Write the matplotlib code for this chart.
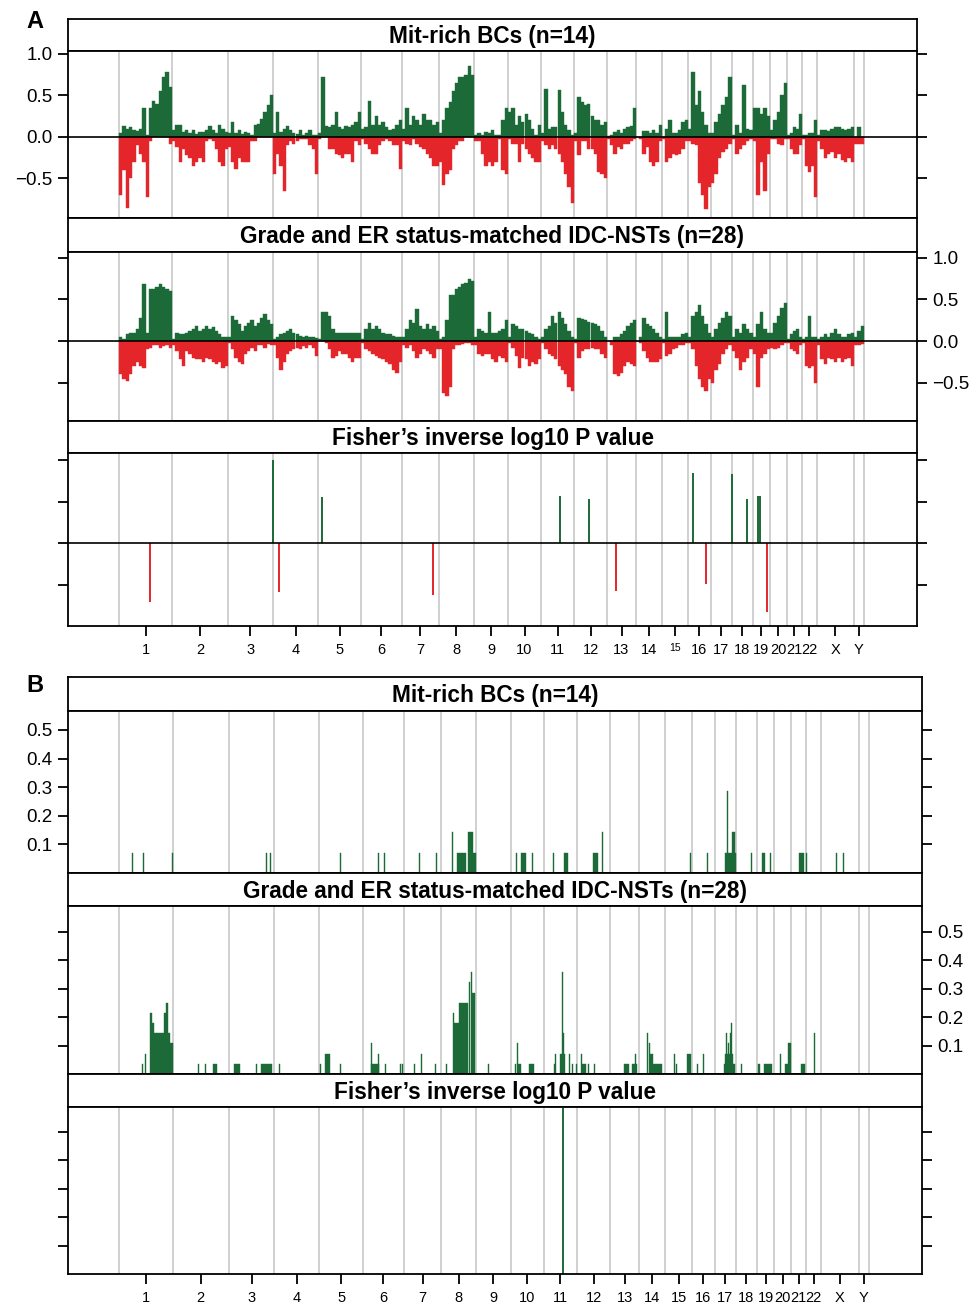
import matplotlib.pyplot as plt
import numpy as np

plt.rcParams['font.family'] = ['Liberation Sans', 'DejaVu Sans']

chrom_names = ['1', '2', '3', '4', '5', '6', '7', '8', '9', '10', '11', '12',
               '13', '14', '15', '16', '17', '18', '19', '20', '21', '22', 'X', 'Y']
chrom_len = [53, 56, 45, 45, 43, 41, 37, 35, 34, 33, 33, 33,
             29, 26, 26, 23, 21, 21, 17, 17, 15, 15, 37, 10]

# panel A: frequency of gain (green) / loss (red), bins along each chromosome
mit_gain = [
    [0.05, 0.13, 0.10, 0.12, 0.08, 0.07, 0.10, 0.35, 0.02, 0.35, 0.43, 0.40, 0.55, 0.72, 0.78, 0.60],
    [0.08, 0.15, 0.14, 0.06, 0.08, 0.05, 0.08, 0.04, 0.06, 0.06, 0.08, 0.13, 0.08, 0.05, 0.14, 0.10, 0.06],
    [0.05, 0.18, 0.05, 0.08, 0.04, 0.06, 0.05, 0.03, 0.15, 0.16, 0.22, 0.30, 0.38, 0.50],
    [0.05, 0.30, 0.06, 0.10, 0.13, 0.08, 0.05, 0.04, 0.08, 0.03, 0.05, 0.08, 0.03, 0.03],
    [0.05, 0.72, 0.13, 0.12, 0.15, 0.30, 0.12, 0.10, 0.13, 0.12, 0.15, 0.18, 0.30],
    [0.10, 0.12, 0.43, 0.15, 0.25, 0.15, 0.18, 0.12, 0.08, 0.10, 0.15, 0.20],
    [0.10, 0.35, 0.15, 0.25, 0.20, 0.15, 0.28, 0.20, 0.20, 0.15, 0.18],
    [0.05, 0.20, 0.35, 0.42, 0.55, 0.65, 0.72, 0.72, 0.75, 0.86, 0.75],
    [0.02, 0.05, 0.03, 0.06, 0.05, 0.08, 0.02, 0.03, 0.20, 0.35],
    [0.30, 0.35, 0.15, 0.25, 0.18, 0.28, 0.20, 0.10, 0.03, 0.15],
    [0.05, 0.58, 0.10, 0.12, 0.12, 0.57, 0.30, 0.15, 0.08, 0.03],
    [0.05, 0.48, 0.42, 0.38, 0.40, 0.25, 0.20, 0.20, 0.15, 0.18],
    [0.01, 0.03, 0.06, 0.08, 0.05, 0.10, 0.12, 0.13, 0.35],
    [0.00, 0.00, 0.07, 0.07, 0.05, 0.08, 0.05, 0.15],
    [0.00, 0.10, 0.20, 0.05, 0.05, 0.08, 0.18, 0.20],
    [0.10, 0.78, 0.38, 0.55, 0.30, 0.15, 0.05],
    [0.05, 0.18, 0.28, 0.38, 0.48, 0.72],
    [0.03, 0.15, 0.05, 0.63, 0.10, 0.08],
    [0.35, 0.35, 0.28, 0.35, 0.25],
    [0.08, 0.20, 0.30, 0.50, 0.65],
    [0.02, 0.05, 0.12, 0.10, 0.28],
    [0.02, 0.03, 0.05, 0.05, 0.20],
    [0.02, 0.08, 0.08, 0.07, 0.10, 0.12, 0.12, 0.10, 0.08, 0.10, 0.12],
    [0.00, 0.12, 0.00],
]
mit_loss = [
    [-0.70, -0.40, -0.85, -0.50, -0.30, -0.10, -0.20, -0.30, -0.72, -0.05, 0, 0, 0, 0, 0, -0.08],
    [-0.05, -0.12, -0.30, -0.15, -0.22, -0.25, -0.35, -0.30, -0.25, -0.30, -0.05, -0.03, -0.05, -0.15, -0.30, -0.35, -0.15],
    [-0.12, -0.30, -0.38, -0.25, -0.30, -0.30, -0.30, -0.05, -0.05, 0, 0, 0, 0, 0],
    [-0.45, -0.20, -0.35, -0.65, -0.10, -0.05, -0.08, -0.05, -0.03, -0.02, -0.03, -0.10, -0.15, -0.45],
    [-0.02, 0, 0, -0.15, -0.15, -0.20, -0.22, -0.25, -0.20, -0.20, -0.30, -0.05, -0.10],
    [-0.02, -0.08, -0.15, -0.20, -0.20, -0.10, -0.05, -0.02, -0.05, -0.10, -0.10, -0.38],
    [-0.05, -0.08, -0.10, -0.03, -0.08, -0.12, -0.15, -0.20, -0.25, -0.35, -0.35],
    [-0.30, -0.58, -0.45, -0.40, -0.15, -0.10, -0.05, -0.05, 0, 0, 0],
    [-0.05, -0.05, -0.20, -0.35, -0.30, -0.35, -0.30, -0.02, -0.40, -0.45],
    [-0.02, -0.08, -0.08, -0.30, -0.08, -0.15, -0.20, -0.25, -0.30, -0.30],
    [-0.05, -0.10, -0.15, -0.10, -0.15, -0.20, -0.30, -0.45, -0.60, -0.80],
    [-0.05, -0.22, -0.05, -0.05, -0.15, -0.15, -0.20, -0.42, -0.45, -0.50],
    [-0.02, -0.10, -0.20, -0.12, -0.15, -0.08, -0.08, -0.05, -0.02],
    [0, -0.02, -0.20, -0.12, -0.30, -0.35, -0.30, -0.05],
    [-0.02, -0.30, -0.25, -0.20, -0.22, -0.20, -0.15, -0.05],
    [-0.05, -0.08, -0.10, -0.55, -0.70, -0.87, -0.60],
    [-0.55, -0.45, -0.25, -0.18, -0.15, -0.08],
    [-0.02, -0.20, -0.15, -0.10, -0.05, -0.03],
    [-0.05, -0.70, -0.30, -0.65, -0.20],
    [-0.02, -0.02, -0.08, -0.10, -0.02],
    [-0.02, -0.15, -0.20, -0.20, -0.10],
    [-0.02, -0.35, -0.42, -0.35, -0.72],
    [-0.05, -0.15, -0.25, -0.20, -0.18, -0.25, -0.20, -0.28, -0.30, -0.25, -0.30],
    [-0.08, -0.08, -0.08],
]
idc_gain = [
    [0.05, 0.03, 0.08, 0.10, 0.10, 0.15, 0.28, 0.68, 0.10, 0.62, 0.63, 0.65, 0.68, 0.65, 0.62, 0.60],
    [0.03, 0.10, 0.08, 0.08, 0.10, 0.12, 0.15, 0.18, 0.12, 0.15, 0.18, 0.15, 0.17, 0.12, 0.08, 0.05, 0.05],
    [0.05, 0.30, 0.25, 0.20, 0.12, 0.18, 0.22, 0.25, 0.18, 0.22, 0.28, 0.33, 0.25, 0.20],
    [0.02, 0.05, 0.08, 0.10, 0.12, 0.15, 0.10, 0.08, 0.06, 0.05, 0.06, 0.05, 0.05, 0.04],
    [0.02, 0.35, 0.35, 0.30, 0.15, 0.10, 0.10, 0.10, 0.10, 0.10, 0.10, 0.10, 0.10],
    [0.02, 0.15, 0.22, 0.15, 0.18, 0.15, 0.10, 0.08, 0.08, 0.06, 0.05, 0.05],
    [0.05, 0.15, 0.25, 0.22, 0.38, 0.18, 0.15, 0.20, 0.15, 0.18, 0.12],
    [0.02, 0.05, 0.25, 0.55, 0.55, 0.62, 0.65, 0.68, 0.70, 0.75, 0.72],
    [0.05, 0.15, 0.12, 0.10, 0.35, 0.10, 0.10, 0.12, 0.15, 0.25],
    [0.05, 0.20, 0.18, 0.15, 0.15, 0.12, 0.10, 0.08, 0.05, 0.03],
    [0.05, 0.15, 0.18, 0.30, 0.22, 0.35, 0.28, 0.20, 0.12, 0.05],
    [0.02, 0.28, 0.26, 0.25, 0.23, 0.22, 0.20, 0.18, 0.12, 0.05],
    [0.00, 0.00, 0.05, 0.05, 0.08, 0.12, 0.18, 0.22, 0.25],
    [0.00, 0.05, 0.28, 0.20, 0.18, 0.15, 0.10, 0.05],
    [0.02, 0.35, 0.05, 0.05, 0.05, 0.05, 0.08, 0.10],
    [0.05, 0.30, 0.35, 0.43, 0.30, 0.20, 0.10],
    [0.05, 0.15, 0.22, 0.28, 0.35, 0.30],
    [0.05, 0.15, 0.10, 0.20, 0.15, 0.10],
    [0.05, 0.20, 0.35, 0.15, 0.10],
    [0.10, 0.22, 0.30, 0.40, 0.46],
    [0.02, 0.08, 0.12, 0.15, 0.05],
    [0.02, 0.05, 0.30, 0.05, 0.05],
    [0.02, 0.05, 0.08, 0.05, 0.10, 0.14, 0.08, 0.05, 0.05, 0.08, 0.10],
    [0.05, 0.12, 0.18],
]
idc_loss = [
    [-0.40, -0.45, -0.48, -0.40, -0.30, -0.25, -0.30, -0.32, -0.10, -0.08, -0.05, -0.05, -0.08, -0.06, -0.05, -0.08],
    [-0.05, -0.12, -0.22, -0.30, -0.12, -0.15, -0.20, -0.22, -0.22, -0.25, -0.20, -0.22, -0.25, -0.28, -0.25, -0.32, -0.30],
    [-0.02, -0.10, -0.20, -0.25, -0.28, -0.15, -0.12, -0.08, -0.12, -0.05, -0.05, -0.08, -0.03, -0.05],
    [-0.05, -0.20, -0.35, -0.25, -0.15, -0.12, -0.10, -0.08, -0.10, -0.06, -0.08, -0.05, -0.08, -0.18],
    [0, 0, -0.02, -0.10, -0.20, -0.18, -0.12, -0.15, -0.15, -0.20, -0.25, -0.20, -0.20],
    [-0.02, -0.10, -0.12, -0.15, -0.18, -0.20, -0.22, -0.25, -0.28, -0.35, -0.38, -0.25],
    [-0.05, -0.08, -0.05, -0.12, -0.20, -0.15, -0.10, -0.12, -0.15, -0.20, -0.10],
    [-0.10, -0.62, -0.66, -0.55, -0.10, -0.05, -0.05, -0.03, -0.02, -0.02, -0.05],
    [-0.05, -0.15, -0.18, -0.15, -0.15, -0.22, -0.25, -0.18, -0.20, -0.25],
    [-0.02, -0.08, -0.18, -0.32, -0.20, -0.22, -0.30, -0.25, -0.28, -0.22],
    [-0.02, -0.10, -0.15, -0.18, -0.22, -0.30, -0.35, -0.40, -0.55, -0.60],
    [-0.02, -0.20, -0.12, -0.10, -0.10, -0.08, -0.10, -0.10, -0.15, -0.20],
    [0, -0.05, -0.40, -0.42, -0.38, -0.30, -0.25, -0.28, -0.30],
    [0, -0.02, -0.12, -0.20, -0.25, -0.25, -0.25, -0.22],
    [-0.02, -0.18, -0.15, -0.10, -0.08, -0.05, -0.05, -0.02],
    [-0.02, -0.10, -0.30, -0.45, -0.55, -0.60, -0.45],
    [-0.50, -0.35, -0.28, -0.15, -0.10, -0.05],
    [-0.12, -0.20, -0.35, -0.25, -0.20, -0.10],
    [-0.15, -0.55, -0.20, -0.15, -0.10],
    [-0.08, -0.10, -0.08, -0.05, -0.02],
    [-0.02, -0.10, -0.12, -0.15, -0.05],
    [-0.02, -0.30, -0.32, -0.30, -0.50],
    [-0.05, -0.22, -0.28, -0.20, -0.22, -0.25, -0.20, -0.25, -0.22, -0.20, -0.30],
    [-0.05, -0.05, -0.03],
]

# panel A Fisher's inverse log10 P (chromosome, relative position, signed value)
fisher_a_chrom = ['1', '3', '4', '5', '7', '11', '12', '13', '16', '16', '17', '18', '19', '19', '19']
fisher_a_pos = [0.585, 0.99, 0.14, 0.10, 0.85, 0.58, 0.46, 0.31, 0.22, 0.78, 0.98, 0.71, 0.28, 0.43, 0.80]
fisher_a_val = [-1.42, 2.0, -1.18, 1.10, -1.25, 1.13, 1.06, -1.16, 1.69, -0.99, 1.66, 1.06, 1.13, 1.13, -1.66]

# panel B amplification frequency: (chromosome, start, end, number of cases)
mit_amp = [
    ('1', 0.23, 0.23, 1), ('1', 0.45, 0.45, 1), ('1', 0.99, 0.99, 1),
    ('3', 0.81, 0.81, 1), ('3', 0.91, 0.91, 1), ('5', 0.47, 0.47, 1),
    ('6', 0.37, 0.37, 1), ('6', 0.51, 0.51, 1), ('7', 0.41, 0.41, 1), ('7', 0.85, 0.85, 1),
    ('8', 0.32, 0.32, 2), ('8', 0.44, 0.71, 1), ('8', 0.75, 0.89, 2), ('8', 0.89, 1.0, 1),
    ('10', 0.15, 0.15, 1), ('10', 0.30, 0.45, 1), ('10', 0.64, 0.64, 1),
    ('11', 0.27, 0.27, 1), ('11', 0.60, 0.73, 1),
    ('12', 0.48, 0.64, 1), ('12', 0.76, 0.76, 2),
    ('15', 0.93, 0.93, 1), ('16', 0.68, 0.68, 1),
    ('17', 0.48, 1.0, 1), ('17', 0.83, 0.96, 2), ('17', 0.57, 0.57, 4),
    ('18', 0.70, 0.70, 1), ('19', 0.30, 0.47, 1), ('19', 0.76, 0.76, 1),
    ('21', 0.53, 0.87, 1), ('21', 0.97, 0.97, 1),
    ('X', 0.38, 0.38, 1), ('X', 0.57, 0.57, 1),
]
mit_n = 14
idc_amp = [
    ('1', 0.43, 0.43, 1), ('1', 0.49, 0.49, 2), ('1', 0.57, 0.62, 6), ('1', 0.62, 0.66, 5),
    ('1', 0.66, 0.71, 4), ('1', 0.71, 0.84, 4), ('1', 0.84, 0.88, 6), ('1', 0.88, 0.92, 7),
    ('1', 0.92, 0.96, 4), ('1', 0.96, 1.0, 3),
    ('2', 0.45, 0.45, 1), ('2', 0.57, 0.57, 1), ('2', 0.71, 0.79, 1),
    ('3', 0.11, 0.25, 1), ('3', 0.59, 0.59, 1), ('3', 0.71, 0.95, 1), ('4', 0.11, 0.11, 1),
    ('5', 0.02, 0.02, 1), ('5', 0.13, 0.25, 2), ('5', 0.47, 0.47, 1),
    ('6', 0.19, 0.19, 3), ('6', 0.20, 0.40, 1), ('6', 0.38, 0.38, 2), ('6', 0.53, 0.53, 1),
    ('6', 0.91, 0.91, 1), ('6', 0.96, 0.96, 1),
    ('7', 0.27, 0.27, 1), ('7', 0.46, 0.46, 2), ('7', 0.83, 0.83, 1),
    ('8', 0.14, 0.14, 1), ('8', 0.33, 0.33, 6), ('8', 0.37, 0.51, 5), ('8', 0.51, 0.76, 7),
    ('8', 0.78, 0.78, 9), ('8', 0.84, 0.84, 10), ('8', 0.87, 0.96, 8),
    ('9', 0.33, 0.33, 1),
    ('10', 0.14, 0.14, 1), ('10', 0.19, 0.19, 3), ('10', 0.22, 0.32, 1), ('10', 0.55, 0.70, 1),
    ('11', 0.30, 0.30, 1), ('11', 0.35, 0.35, 2), ('11', 0.50, 0.63, 2), ('11', 0.56, 0.56, 10),
    ('11', 0.59, 0.59, 4), ('11', 0.75, 0.75, 2), ('11', 0.85, 0.85, 1), ('11', 0.98, 0.98, 1),
    ('12', 0.11, 0.11, 2), ('12', 0.15, 0.28, 1), ('12', 0.33, 0.33, 1), ('12', 0.52, 0.52, 1),
    ('13', 0.47, 0.64, 1), ('13', 0.76, 0.93, 1), ('13', 0.86, 0.86, 2),
    ('14', 0.30, 0.30, 4), ('14', 0.36, 0.42, 3), ('14', 0.42, 0.54, 2), ('14', 0.54, 0.85, 1),
    ('15', 0.33, 0.33, 2), ('15', 0.39, 0.39, 1), ('15', 0.81, 0.98, 2),
    ('16', 0.22, 0.22, 1), ('16', 0.51, 0.51, 2),
    ('17', 0.45, 0.97, 1), ('17', 0.48, 0.85, 2), ('17', 0.55, 0.55, 4), ('17', 0.62, 0.62, 3),
    ('17', 0.70, 0.70, 4), ('17', 0.77, 0.77, 5),
    ('18', 0.24, 0.24, 1), ('19', 0.05, 0.20, 1), ('19', 0.40, 0.85, 1),
    ('20', 0.35, 0.35, 2), ('20', 0.63, 0.81, 1), ('20', 0.81, 1.0, 3),
    ('21', 0.67, 0.89, 1), ('22', 0.48, 0.48, 4),
]
idc_n = 28

# panel B Fisher's inverse log10 P
fisher_b_chrom = ['11']
fisher_b_pos = [0.57]
fisher_b_val = [5.85]

green = '#1b6a37'
red = '#e4262b'
grey = '#c8c8c8'

starts = np.concatenate([[0], np.cumsum(chrom_len)[:-1]])
offset = dict(zip(chrom_names, starts))
size = dict(zip(chrom_names, chrom_len))
mids = starts + np.array(chrom_len) / 2
xlim = (-51, sum(chrom_len) + 53)

W, H = 975, 1305
fig = plt.figure(figsize=(W / 100, H / 100), dpi=100)


def rect(x0, y0, x1, y1):
    return [x0 / W, 1 - y1 / H, (x1 - x0) / W, (y1 - y0) / H]


def header(x0, y0, x1, y1, txt):
    ax = fig.add_axes(rect(x0, y0, x1, y1))
    ax.set_xticks([])
    ax.set_yticks([])
    for s in ax.spines.values():
        s.set_linewidth(1.3)
    ax.text(0.5, 0.45, txt, ha='center', va='center', fontsize=16.3, fontweight='bold')


def panel(x0, y0, x1, y1):
    ax = fig.add_axes(rect(x0, y0, x1, y1))
    ax.set_xlim(xlim)
    for s in ax.spines.values():
        s.set_linewidth(1.3)
    for b in list(starts) + [sum(chrom_len)]:
        ax.axvline(b, color=grey, lw=1.2, zorder=0)
    ax.tick_params(direction='out', length=7, width=1.3, labelsize=13.5, pad=4)
    ax.set_xticks([])
    return ax


def profile(ax, values, color):
    for ch, vals in zip(chrom_names, values):
        n = len(vals)
        w = size[ch] / n
        lefts = offset[ch] + w * np.arange(n)
        ax.bar(lefts, vals, width=w, align='edge', color=color,
               edgecolor=color, linewidth=0.3, zorder=2)


def amp(ax, rows, n):
    for ch, a, b, k in rows:
        left = offset[ch] + a * size[ch]
        w = max((b - a) * size[ch], 1.0)
        ax.bar(left, k / n, width=w, align='edge', color=green,
               edgecolor=green, linewidth=0.3, zorder=2)


def fisher(ax, chs, pos, vals):
    x = [offset[c] + p * size[c] for c, p in zip(chs, pos)]
    cols = [green if v > 0 else red for v in vals]
    ax.vlines(x, 0, vals, colors=cols, lw=1.4, zorder=2)


def chrom_axis(ax, small15):
    ax.set_xticks(mids)
    ax.set_xticklabels(chrom_names, fontsize=10.5)
    ax.tick_params(axis='x', length=7, width=1.3, pad=5)
    if small15:
        ax.get_xticklabels()[14].set_fontsize(7.5)


# ---- panel A ----
fig.text(35 / W, 1 - 22 / H, 'A', fontsize=17, fontweight='bold', ha='center', va='center')
header(68, 19, 917, 51, 'Mit-rich BCs (n=14)')
a1 = panel(68, 51, 917, 218)
profile(a1, mit_gain, green)
profile(a1, mit_loss, red)
a1.axhline(0, color='black', lw=1.2, zorder=3)
a1.set_ylim(-0.976, 1.036)
a1.set_yticks([-0.5, 0, 0.5, 1.0])
a1.set_yticklabels(['\u22120.5', '0.0', '0.5', '1.0'])
a1.tick_params(axis='y', left=True, right=True, labelleft=True, labelright=False)

header(68, 218, 917, 252, 'Grade and ER status-matched IDC-NSTs (n=28)')
a2 = panel(68, 252, 917, 421)
profile(a2, idc_gain, green)
profile(a2, idc_loss, red)
a2.axhline(0, color='black', lw=1.2, zorder=3)
a2.set_ylim(-0.96, 1.068)
a2.set_yticks([-0.5, 0, 0.5, 1.0])
a2.set_yticklabels(['\u22120.5', '0.0', '0.5', '1.0'])
a2.tick_params(axis='y', left=True, right=True, labelleft=False, labelright=True)

header(68, 421, 917, 453, 'Fisher\u2019s inverse log10 P value')
a3 = panel(68, 453, 917, 626)
fisher(a3, fisher_a_chrom, fisher_a_pos, fisher_a_val)
a3.axhline(0, color='black', lw=1.2, zorder=3)
a3.set_ylim(-2.0, 2.17)
a3.set_yticks([-1, 0, 1, 2])
a3.tick_params(axis='y', left=True, right=True, labelleft=False, labelright=False)
chrom_axis(a3, True)

# ---- panel B ----
fig.text(35 / W, 1 - 686 / H, 'B', fontsize=17, fontweight='bold', ha='center', va='center')
header(68, 677, 922, 711, 'Mit-rich BCs (n=14)')
b1 = panel(68, 711, 922, 873)
amp(b1, mit_amp, mit_n)
b1.set_ylim(0, 0.566)
b1.set_yticks([0.1, 0.2, 0.3, 0.4, 0.5])
b1.set_yticklabels(['0.1', '0.2', '0.3', '0.4', '0.5'])
b1.tick_params(axis='y', left=True, right=True, labelleft=True, labelright=False)

header(68, 873, 922, 906, 'Grade and ER status-matched IDC-NSTs (n=28)')
b2 = panel(68, 906, 922, 1074)
amp(b2, idc_amp, idc_n)
b2.set_ylim(0, 0.59)
b2.set_yticks([0.1, 0.2, 0.3, 0.4, 0.5])
b2.set_yticklabels(['0.1', '0.2', '0.3', '0.4', '0.5'])
b2.tick_params(axis='y', left=True, right=True, labelleft=False, labelright=True)

header(68, 1074, 922, 1107, 'Fisher\u2019s inverse log10 P value')
b3 = panel(68, 1107, 922, 1274)
fisher(b3, fisher_b_chrom, fisher_b_pos, fisher_b_val)
b3.set_ylim(0, 5.88)
b3.set_yticks([1, 2, 3, 4, 5])
b3.tick_params(axis='y', left=True, right=True, labelleft=False, labelright=False)
chrom_axis(b3, False)

fig.savefig('out.png', dpi=100)
